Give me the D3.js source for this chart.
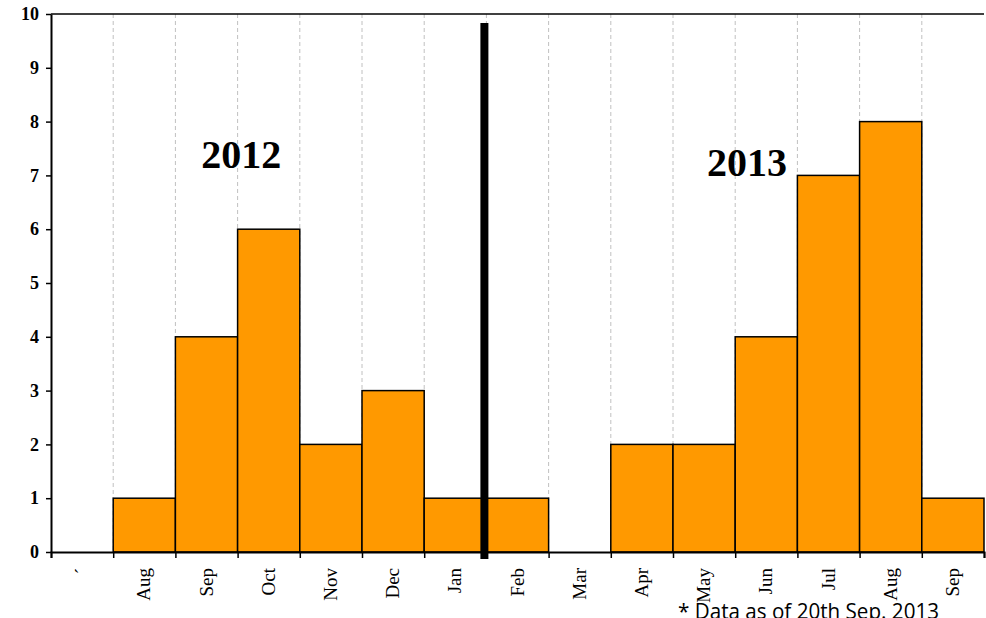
<!DOCTYPE html>
<html>
<head>
<meta charset="utf-8">
<script src="https://cdn.jsdelivr.net/npm/d3@7"></script>
<style>
  body { margin: 0; background: #fff; }
</style>
</head>
<body>
<div id="chart"></div>
<script>
// months (first label is a stray mark in the original)
const months = ["´", "Aug", "Sep", "Oct", "Nov", "Dec", "Jan", "Feb", "Mar", "Apr", "May", "Jun", "Jul", "Aug", "Sep"];
const counts = [0, 1, 4, 6, 2, 3, 1, 1, 0, 2, 2, 4, 7, 8, 1];
const yTicks = [0, 1, 2, 3, 4, 5, 6, 7, 8, 9, 10];
const yearLabels = [
  { text: "2012", pos: 3.06, val: 7.14 },
  { text: "2013", pos: 11.19, val: 6.99 }
];
const splitAt = 7; // boundary between Jan and Feb

const width = 986, height = 618;
const margin = { top: 14, right: 2, bottom: 66, left: 51 };
const innerW = width - margin.left - margin.right;
const innerH = height - margin.top - margin.bottom;

const svg = d3.select("#chart").append("svg")
  .attr("width", width)
  .attr("height", height);

const g = svg.append("g")
  .attr("transform", `translate(${margin.left},${margin.top})`);

const idx = d3.range(months.length);
const x = d3.scaleBand().domain(idx).range([0, innerW]).padding(0);
const xl = d3.scaleLinear().domain([0, months.length]).range([0, innerW]);
const y = d3.scaleLinear().domain([0, 10]).range([innerH, 0]);

// dashed vertical grid at each bin boundary
g.selectAll(".grid")
  .data(d3.range(1, months.length))
  .enter().append("line")
  .attr("x1", d => xl(d)).attr("x2", d => xl(d))
  .attr("y1", 0).attr("y2", innerH)
  .attr("stroke", "#c0c0c0")
  .attr("stroke-width", 1)
  .attr("stroke-dasharray", "4,3");

// top border
g.append("line")
  .attr("x1", 0).attr("x2", innerW)
  .attr("y1", 0).attr("y2", 0)
  .attr("stroke", "#000").attr("stroke-width", 1.5);

// bars
g.selectAll(".bar")
  .data(counts.map((v, i) => ({ i, v })).filter(d => d.v > 0))
  .enter().append("rect")
  .attr("class", "bar")
  .attr("x", d => x(d.i))
  .attr("width", x.bandwidth())
  .attr("y", d => y(d.v))
  .attr("height", d => innerH - y(d.v))
  .attr("fill", "#ff9900")
  .attr("stroke", "#000")
  .attr("stroke-width", 1.5);

// y axis
const yAxis = g.append("g")
  .call(d3.axisLeft(y).tickValues(yTicks).tickSize(5).tickSizeOuter(0).tickPadding(7));
yAxis.select(".domain").attr("stroke", "#000").attr("stroke-width", 2);
yAxis.selectAll(".tick line").attr("stroke-width", 1.5);
yAxis.selectAll("text")
  .attr("font-family", "'Liberation Serif', 'Times New Roman', serif")
  .attr("font-size", 18)
  .attr("font-weight", "bold")
  .attr("fill", "#000");

// x axis
const xAxisG = g.append("g").attr("transform", `translate(0,${innerH})`);
xAxisG.call(d3.axisBottom(xl).tickValues(d3.range(0, months.length + 1)).tickSize(6).tickFormat(""));
xAxisG.select(".domain").attr("stroke", "#000").attr("stroke-width", 2);
xAxisG.selectAll(".tick line").attr("stroke-width", 1.5);

xAxisG.selectAll(".mlabel")
  .data(months)
  .enter().append("text")
  .attr("class", "mlabel")
  .attr("transform", (d, i) => `translate(${x(i) + x.bandwidth() / 2 + 6},16) rotate(-90)`)
  .attr("text-anchor", "end")
  .attr("font-family", "'Liberation Serif', 'Times New Roman', serif")
  .attr("font-size", 19)
  .attr("fill", "#000")
  .text(d => d);

// year separator
g.append("line")
  .attr("x1", xl(splitAt) - 2).attr("x2", xl(splitAt) - 2)
  .attr("y1", 9).attr("y2", innerH + 7)
  .attr("stroke", "#000")
  .attr("stroke-width", 8);

// year labels
g.selectAll(".year")
  .data(yearLabels)
  .enter().append("text")
  .attr("x", d => xl(d.pos))
  .attr("y", d => y(d.val))
  .attr("text-anchor", "middle")
  .style("font-family", "'Liberation Serif', 'Times New Roman', serif")
  .style("font-size", "40px")
  .style("font-weight", "bold")
  .text(d => d.text);

// footnote
svg.append("text")
  .attr("x", 678)
  .attr("y", 619)
  .style("font-family", "'Open Sans', 'Noto Sans', sans-serif")
  .style("font-size", "21px")
  .attr("textLength", 261)
  .attr("lengthAdjust", "spacingAndGlyphs")
  .text("* Data as of 20th Sep. 2013");
</script>
</body>
</html>
